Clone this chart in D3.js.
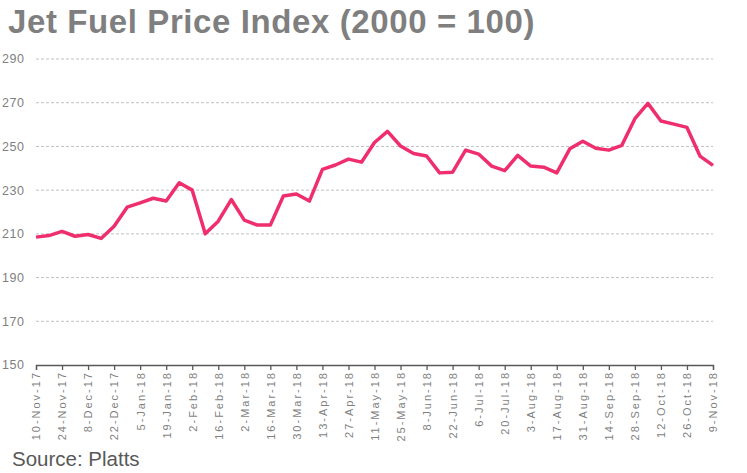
<!DOCTYPE html>
<html>
<head>
<meta charset="utf-8">
<script src="https://cdn.jsdelivr.net/npm/d3@7"></script>
<style>
  body { margin: 0; background: #fff; }
  svg { display: block; font-family: Arial, "Liberation Sans", sans-serif; }
</style>
</head>
<body>
<div id="chart"></div>
<script>
/* ---- data ---- */
const weeks = [
  '10-Nov-17', '17-Nov-17', '24-Nov-17', '1-Dec-17', '8-Dec-17', '15-Dec-17', '22-Dec-17', '29-Dec-17',
  '5-Jan-18', '12-Jan-18', '19-Jan-18', '26-Jan-18', '2-Feb-18', '9-Feb-18', '16-Feb-18', '23-Feb-18',
  '2-Mar-18', '9-Mar-18', '16-Mar-18', '23-Mar-18', '30-Mar-18', '6-Apr-18', '13-Apr-18', '20-Apr-18',
  '27-Apr-18', '4-May-18', '11-May-18', '18-May-18', '25-May-18', '1-Jun-18', '8-Jun-18', '15-Jun-18',
  '22-Jun-18', '29-Jun-18', '6-Jul-18', '13-Jul-18', '20-Jul-18', '27-Jul-18', '3-Aug-18', '10-Aug-18',
  '17-Aug-18', '24-Aug-18', '31-Aug-18', '7-Sep-18', '14-Sep-18', '21-Sep-18', '28-Sep-18', '5-Oct-18',
  '12-Oct-18', '19-Oct-18', '26-Oct-18', '2-Nov-18', '9-Nov-18'
];

const priceIndex = [
  208.5, 209.2, 211.1, 208.9, 209.7, 207.9, 213.5, 222.2,
  224.2, 226.3, 225.0, 233.4, 230.0, 210.0, 215.8, 225.7,
  216.3, 214.0, 214.0, 227.3, 228.2, 225.0, 239.5, 241.5,
  244.2, 242.8, 251.8, 256.9, 250.2, 246.8, 245.6, 237.9,
  238.2, 248.3, 246.5, 241.0, 238.9, 245.9, 241.0, 240.5,
  237.9, 248.9, 252.4, 249.2, 248.3, 250.5, 262.7, 269.7,
  261.6, 260.2, 258.7, 245.6, 241.3
];

const tickLabels = [
  '10-Nov-17', '24-Nov-17', '8-Dec-17', '22-Dec-17', '5-Jan-18', '19-Jan-18', '2-Feb-18',
  '16-Feb-18', '2-Mar-18', '16-Mar-18', '30-Mar-18', '13-Apr-18', '27-Apr-18', '11-May-18',
  '25-May-18', '8-Jun-18', '22-Jun-18', '6-Jul-18', '20-Jul-18', '3-Aug-18', '17-Aug-18',
  '31-Aug-18', '14-Sep-18', '28-Sep-18', '12-Oct-18', '26-Oct-18', '9-Nov-18'
];

const yTicks = [150, 170, 190, 210, 230, 250, 270, 290];

/* ---- chart ---- */
const width = 747, height = 473;
const margin = { top: 59, right: 34, bottom: 108, left: 36 };

const svg = d3.select('#chart')
  .append('svg')
  .attr('width', width)
  .attr('height', height);

const x = d3.scalePoint()
  .domain(weeks)
  .range([margin.left, width - margin.right]);

const y = d3.scaleLinear()
  .domain([150, 290])
  .range([height - margin.bottom, margin.top]);

// Title
svg.append('text')
  .attr('x', 8)
  .attr('y', 33)
  .attr('fill', '#7f7f7f')
  .attr('font-size', '33px')
  .attr('font-weight', 'bold')
  .attr('letter-spacing', '0.6px')
  .text('Jet Fuel Price Index (2000 = 100)');

// Grid lines
svg.append('g')
  .selectAll('line')
  .data(yTicks.filter(d => d > 150))
  .join('line')
  .attr('x1', margin.left).attr('x2', width - margin.right)
  .attr('y1', d => y(d)).attr('y2', d => y(d))
  .attr('stroke', '#c0c0c0')
  .attr('stroke-width', 1)
  .attr('stroke-dasharray', '3,2');

// Y labels
svg.append('g')
  .selectAll('text')
  .data(yTicks)
  .join('text')
  .attr('x', 2)
  .attr('y', d => y(d))
  .attr('dy', '0.35em')
  .attr('fill', '#7f7f7f')
  .attr('font-size', '12.5px')
  .attr('letter-spacing', '0.6px')
  .text(d => d);

// X axis
const xAxis = d3.axisBottom(x)
  .tickValues(tickLabels)
  .tickSize(5)
  .tickPadding(6);

const gx = svg.append('g')
  .attr('transform', `translate(0,${y(150)})`)
  .call(xAxis);

gx.select('.domain').attr('stroke', '#595959').attr('stroke-width', 1.3);
gx.selectAll('.tick line').attr('stroke', '#595959').attr('stroke-width', 1.3);
gx.selectAll('.tick text')
  .attr('fill', '#7f7f7f')
  .attr('font-size', '11px')
  .attr('font-family', 'Arial, "Liberation Sans", sans-serif')
  .attr('letter-spacing', '2px')
  .attr('text-anchor', 'end')
  .attr('transform', 'rotate(-90)')
  .attr('x', -6)
  .attr('y', 0)
  .attr('dy', '0.35em');

// Line
const line = d3.line()
  .x((d, i) => x(weeks[i]))
  .y(d => y(d));

svg.append('path')
  .datum(priceIndex)
  .attr('fill', 'none')
  .attr('stroke', '#ef2e6e')
  .attr('stroke-width', 3.5)
  .attr('stroke-linejoin', 'round')
  .attr('d', line);

// Source
svg.append('text')
  .attr('x', 12)
  .attr('y', 466)
  .attr('fill', '#595959')
  .attr('font-size', '20.5px')
  .text('Source: Platts');
</script>
</body>
</html>
